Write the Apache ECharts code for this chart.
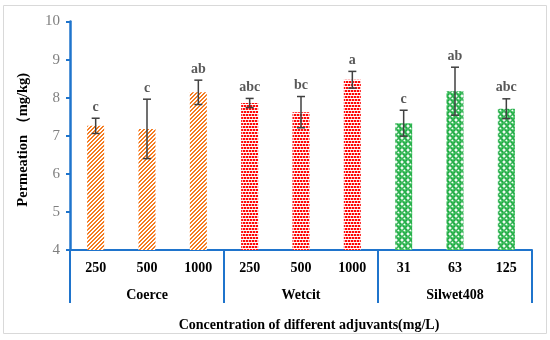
<!DOCTYPE html>
<html><head><meta charset="utf-8">
<script src="https://cdn.jsdelivr.net/npm/echarts@6/dist/echarts.min.js"></script>
<style>html,body{margin:0;padding:0;background:#fff}#c{width:550px;height:340px}</style>
</head><body><div id="c"></div>
<script>
const categories = ['250','500','1000','250','500','1000','31','63','125'];
const groups = ['Coerce','Wetcit','Silwet408'];
const means = [7.26, 7.18, 8.14, 7.86, 7.62, 8.47, 7.33, 8.17, 7.71];
const errors = [0.20, 0.78, 0.32, 0.12, 0.41, 0.22, 0.34, 0.63, 0.26];
const letters = ['c','c','ab','abc','bc','a','c','ab','abc'];
const groupOfBar = [0,0,0,1,1,1,2,2,2];
const yTicks = {min:4, max:10, interval:1};

function makeTile(w,h,draw){const c=document.createElement('canvas');c.width=w;c.height=h;const g=c.getContext('2d');draw(g);return c;}
const stripe = makeTile(4,4,g=>{g.fillStyle='#fff';g.fillRect(0,0,4,4);g.fillStyle='#f47b20';
  for(let x=0;x<4;x++)for(let y=0;y<4;y++){const m=(x+y)%4;if(m===0||m===1)g.fillRect(x,y,1,1);}});
const dots = makeTile(6,6,g=>{g.fillStyle='#fff';g.fillRect(0,0,6,6);
  g.fillStyle='#ffb0b0';g.fillRect(2,0,1,2);g.fillRect(5,0,1,2);g.fillRect(3,3,1,2);g.fillRect(0,3,1,2);
  g.fillStyle='#ff0a0a';
  g.fillRect(0,0,2,2);g.fillRect(3,0,2,2);g.fillRect(1,3,2,2);g.fillRect(4,3,2,2);});
const spheres = makeTile(6,6,g=>{g.fillStyle='#fff';g.fillRect(0,0,6,6);
  g.fillStyle='#16a83c';g.beginPath();g.arc(3,3,2.9,0,Math.PI*2);g.fill();
  g.fillStyle='#5fd07a';g.beginPath();g.arc(3,3,1.6,0,Math.PI*2);g.fill();
  g.fillStyle='#fff';g.beginPath();g.arc(2.3,2.3,0.9,0,Math.PI*2);g.fill();});
const patterns = [stripe, dots, spheres].map(im=>({image:im, repeat:'repeat'}));

const blue = '#1f74cc';
const serif = '"Liberation Serif","Times New Roman",serif';

const chart = echarts.init(document.getElementById('c'));
chart.setOption({
  animation:false,
  graphic:[{type:'rect',shape:{x:3.5,y:5.5,width:543,height:328},style:{fill:'none',stroke:'#d9d9d9',lineWidth:1},silent:true}],
  grid:{left:70,right:18,top:21.5,bottom:90},
  xAxis:[{
    type:'category',data:categories,
    axisLine:{lineStyle:{color:blue,width:2}},
    axisTick:{show:false},
    axisLabel:{color:'#000',fontFamily:serif,fontWeight:'bold',fontSize:14,margin:11},
    name:'Concentration of different adjuvants(mg/L)',nameLocation:'middle',nameGap:68,
    nameTextStyle:{color:'#000',fontFamily:serif,fontWeight:'bold',fontSize:14,padding:[0,0,0,16]}
  },{
    type:'category',data:groups,position:'bottom',
    axisLine:{show:false},
    axisTick:{show:true,length:53,lineStyle:{color:blue,width:2}},
    axisLabel:{color:'#000',fontFamily:serif,fontWeight:'bold',fontSize:14,margin:38},
    splitLine:{show:false}
  }],
  yAxis:{
    type:'value',min:yTicks.min,max:yTicks.max,interval:yTicks.interval,
    axisLine:{show:true,lineStyle:{color:blue,width:2.5}},
    axisTick:{show:true,length:4,lineStyle:{color:blue,width:2}},
    splitLine:{show:false},
    axisLabel:{color:'#7f7f7f',fontFamily:serif,fontSize:15,margin:10},
    name:'Permeation \uFF08mg/kg)',nameLocation:'middle',nameGap:39,nameRotate:90,
    nameTextStyle:{color:'#000',fontFamily:serif,fontWeight:'bold',fontSize:14.5,padding:[0,8,0,0]}
  },
  series:[{
    type:'bar',barWidth:17,
    data:means.map((v,i)=>({value:v,itemStyle:{color:patterns[groupOfBar[i]]}}))
  },{
    type:'custom',
    data:means.map((v,i)=>[i,v-errors[i],v+errors[i]]),
    renderItem:function(params,api){
      const i=api.value(0);
      const lo=api.coord([i,api.value(1)]);const hi=api.coord([i,api.value(2)]);
      const x=lo[0];const hw=4;
      const st={stroke:'#404040',lineWidth:1.5};
      return {type:'group',children:[
        {type:'line',shape:{x1:x,y1:lo[1],x2:x,y2:hi[1]},style:st},
        {type:'line',shape:{x1:x-hw,y1:lo[1],x2:x+hw,y2:lo[1]},style:st},
        {type:'line',shape:{x1:x-hw,y1:hi[1],x2:x+hw,y2:hi[1]},style:st},
        {type:'text',style:{text:letters[i],x:x,y:hi[1]-4,align:'center',verticalAlign:'bottom',
          fill:'#595959',font:'bold 14px '+serif}}
      ]};
    },
    z:5
  }]
});
</script></body></html>
